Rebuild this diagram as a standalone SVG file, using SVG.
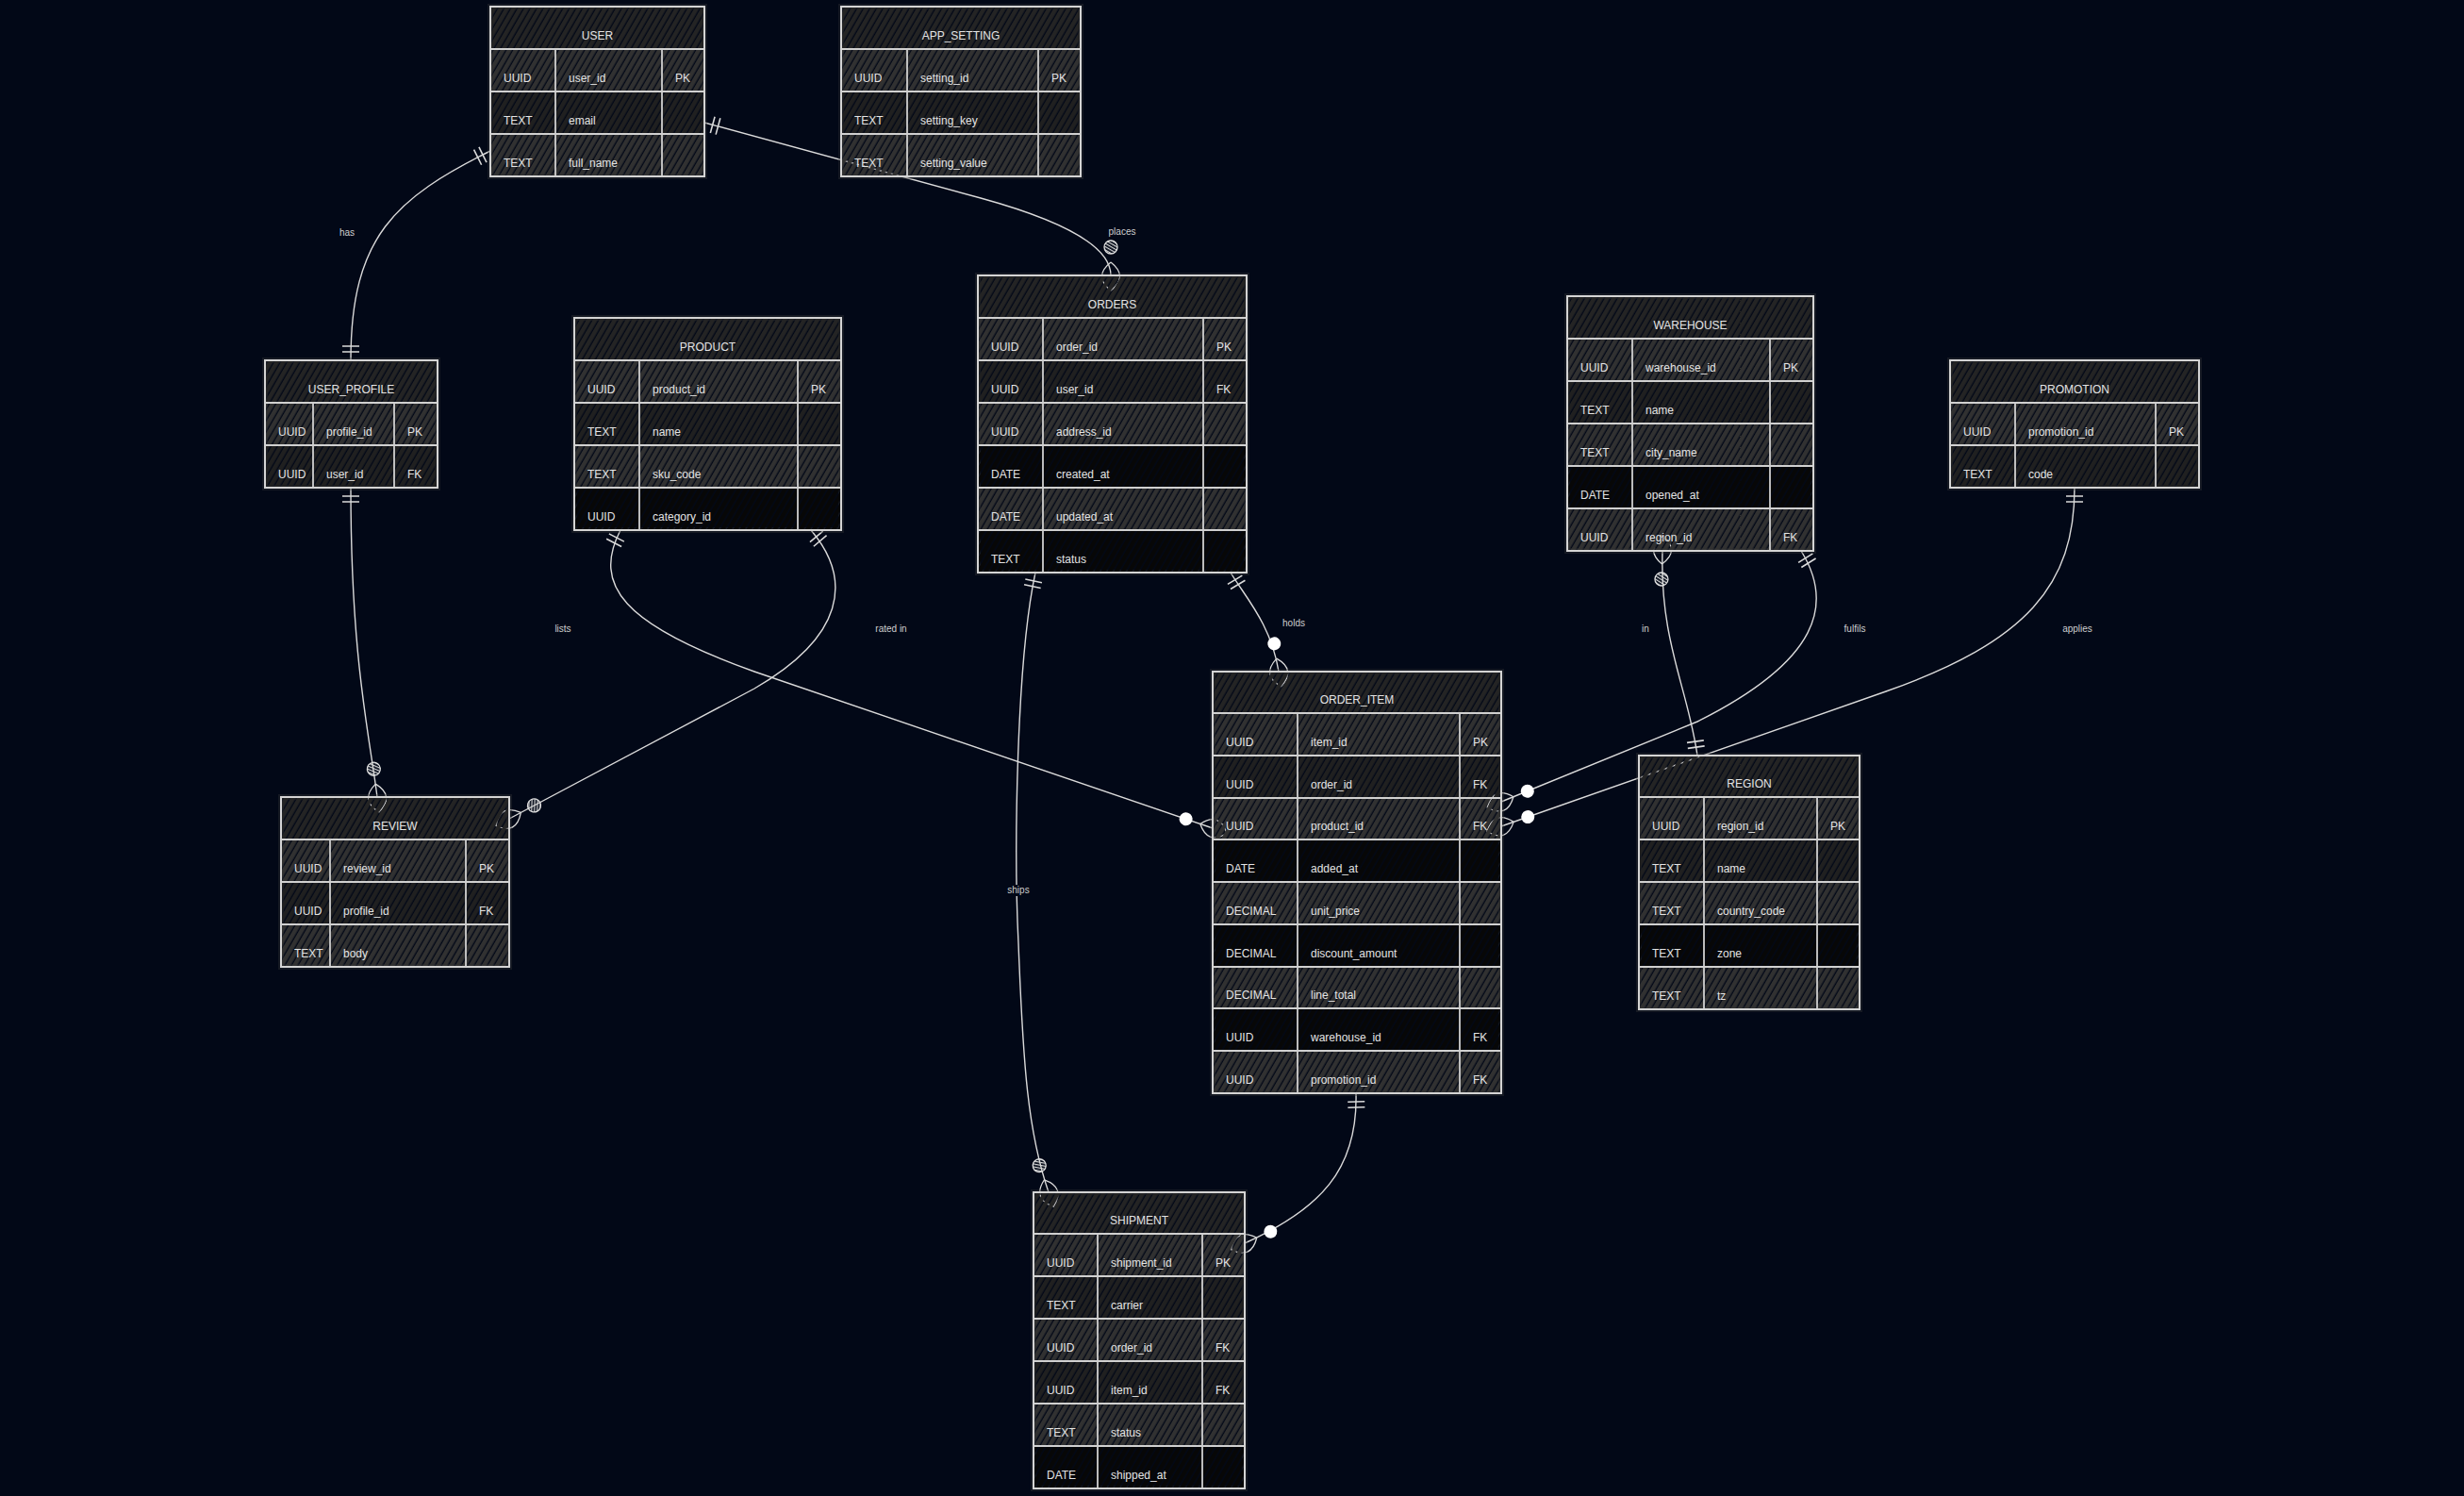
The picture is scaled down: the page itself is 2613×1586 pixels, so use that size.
<svg xmlns="http://www.w3.org/2000/svg" xmlns:xlink="http://www.w3.org/1999/xlink" width="2613" height="1586" viewBox="0 0 2613 1586">
<defs>
<style>
.t{font-family:"Liberation Sans",Arial,sans-serif;font-size:12px;fill:#e4e4e4}
.th{text-anchor:middle}
.lb{font-family:"Liberation Sans",Arial,sans-serif;font-size:10px;fill:#cfcfcf;text-anchor:middle}
.lbg{fill:#020817}
.h{fill:url(#pH)}
.m{fill:url(#pM)}
.d{fill:url(#pD)}
.k{fill:url(#pK)}
.halo{fill:none;stroke:#3a3a3a;stroke-width:6;stroke-opacity:.35}
.bd{fill:none;stroke:#d4d4d4;stroke-width:2}
.ln{fill:none;stroke:#d0d0d0;stroke-width:1.8}
.c{fill:none;stroke:#dadada;stroke-width:1.4}
</style>
<pattern id="pH" width="6" height="6" patternUnits="userSpaceOnUse" patternTransform="rotate(30)"><rect width="4.6" height="6" fill="#242424"/></pattern>
<pattern id="pM" width="6" height="6" patternUnits="userSpaceOnUse" patternTransform="rotate(30)"><rect width="4.6" height="6" fill="#313131"/></pattern>
<pattern id="pD" width="6" height="6" patternUnits="userSpaceOnUse" patternTransform="rotate(30)"><rect width="4.6" height="6" fill="#202020"/></pattern>
<pattern id="pK" width="6" height="6" patternUnits="userSpaceOnUse" patternTransform="rotate(30)"><rect width="4.6" height="6" fill="#070707"/></pattern>
<pattern id="pC" width="3" height="3" patternUnits="userSpaceOnUse" patternTransform="rotate(30)"><rect width="1.2" height="3" fill="#d8d8d8"/></pattern>
<g id="one"><path d="M-9,-9V9M-15,-9V9" fill="none" stroke="#dadada" stroke-width="1.6"/></g>
<g id="leaf"><path d="M-14,0Q1,-19 16,0Q1,19 -14,0" fill="none" stroke="#dadada" stroke-width="1.3"/></g>
<g id="mf"><use href="#leaf"/><circle cx="-30" cy="0" r="7" fill="#ffffff"/></g>
<g id="mh"><use href="#leaf"/><circle cx="-30" cy="0" r="7" fill="url(#pC)" stroke="#e0e0e0" stroke-width="1.3"/></g>
</defs>
<rect width="2613" height="1586" fill="#020817"/>

<g id="connectors">
<path class="c" d="M372,382 C372,250 420,210 520,160"/>
<use href="#one" transform="translate(372,382) rotate(90)"/>
<use href="#one" transform="translate(520,160) rotate(-26.6)"/>

<path class="c" d="M747,130 L1040,210 Q1178,248 1178,292"/>
<use href="#one" transform="translate(747,130) rotate(195.3)"/>
<use href="#mh" transform="translate(1178,292) rotate(90)"/>

<path class="c" d="M372,517 C372,700 392,780 400,845"/>
<use href="#one" transform="translate(372,517) rotate(-90)"/>
<use href="#mh" transform="translate(400,845) rotate(83)"/>

<path class="c" d="M658,562 C628,620 660,662 800,712 L1286,878"/>
<use href="#one" transform="translate(658,562) rotate(-62.6)"/>
<use href="#mf" transform="translate(1286,878) rotate(18.9)"/>

<path class="c" d="M860,562 C905,615 895,675 800,730 L540,868"/>
<use href="#one" transform="translate(860,562) rotate(-130.3)"/>
<use href="#mh" transform="translate(540,868) rotate(152)"/>

<path class="c" d="M1098,607 C1078,700 1075,900 1080,1000 C1085,1130 1090,1200 1112,1264"/>
<use href="#one" transform="translate(1098,607) rotate(-77.9)"/>
<use href="#mh" transform="translate(1112,1264) rotate(71)"/>

<path class="c" d="M1305,607 C1320,632 1348,662 1356,712"/>
<use href="#one" transform="translate(1305,607) rotate(-121)"/>
<use href="#mf" transform="translate(1356,712) rotate(81)"/>

<path class="c" d="M1763,584 C1760,680 1790,730 1800,801"/>
<use href="#mh" transform="translate(1763,584) rotate(-88)"/>
<use href="#one" transform="translate(1800,801) rotate(82)"/>

<path class="c" d="M1910,584 C1945,640 1930,700 1800,765 L1592,850"/>
<use href="#one" transform="translate(1910,584) rotate(-122)"/>
<use href="#mf" transform="translate(1592,850) rotate(157.8)"/>

<path class="c" d="M2200,517 C2200,620 2150,680 2000,733 L1592,876"/>
<use href="#one" transform="translate(2200,517) rotate(-90)"/>
<use href="#mf" transform="translate(1592,876) rotate(160.7)"/>

<path class="c" d="M1438,1159 C1440,1240 1400,1282 1320,1318"/>
<use href="#one" transform="translate(1438,1159) rotate(-91.4)"/>
<use href="#mf" transform="translate(1320,1318) rotate(155.8)"/>

<rect class="lbg" x="354" y="241" width="28" height="12"/><text class="lb" x="368" y="250">has</text>
<rect class="lbg" x="1172" y="240" width="36" height="12"/><text class="lb" x="1190" y="249">places</text>
<rect class="lbg" x="584" y="661" width="26" height="12"/><text class="lb" x="597" y="670">lists</text>
<rect class="lbg" x="925" y="661" width="40" height="12"/><text class="lb" x="945" y="670">rated in</text>
<text class="lb" x="1372" y="664">holds</text>
<rect class="lbg" x="1737" y="661" width="16" height="12"/><text class="lb" x="1745" y="670">in</text>
<rect class="lbg" x="1950" y="661" width="34" height="12"/><text class="lb" x="1967" y="670">fulfils</text>
<rect class="lbg" x="2183" y="661" width="40" height="12"/><text class="lb" x="2203" y="670">applies</text>
<rect class="lbg" x="1064" y="938" width="32" height="12"/><text class="lb" x="1080" y="947">ships</text>
</g>

<g id="user">
<rect class="halo" x="520" y="7" width="227" height="180"/>
<rect class="h" x="520" y="7" width="227" height="45"/>
<rect class="m" x="520" y="52" width="227" height="45"/>
<rect class="d" x="520" y="97" width="227" height="45"/>
<rect class="m" x="520" y="142" width="227" height="45"/>
<path class="ln" d="M520,52H747M520,97H747M520,142H747M589,52V187M702,52V187"/>
<rect class="bd" x="520" y="7" width="227" height="180"/>
<text class="t th" x="633.5" y="42">USER</text>
<text class="t" x="534" y="87">UUID</text><text class="t" x="603" y="87">user_id</text><text class="t" x="716" y="87">PK</text>
<text class="t" x="534" y="132">TEXT</text><text class="t" x="603" y="132">email</text>
<text class="t" x="534" y="177">TEXT</text><text class="t" x="603" y="177">full_name</text>
</g>

<g id="app_setting">
<rect class="halo" x="892" y="7" width="254" height="180"/>
<rect class="h" x="892" y="7" width="254" height="45"/>
<rect class="m" x="892" y="52" width="254" height="45"/>
<rect class="d" x="892" y="97" width="254" height="45"/>
<rect class="m" x="892" y="142" width="254" height="45"/>
<path class="ln" d="M892,52H1146M892,97H1146M892,142H1146M962,52V187M1101,52V187"/>
<rect class="bd" x="892" y="7" width="254" height="180"/>
<text class="t th" x="1019" y="42">APP_SETTING</text>
<text class="t" x="906" y="87">UUID</text><text class="t" x="976" y="87">setting_id</text><text class="t" x="1115" y="87">PK</text>
<text class="t" x="906" y="132">TEXT</text><text class="t" x="976" y="132">setting_key</text>
<text class="t" x="906" y="177">TEXT</text><text class="t" x="976" y="177">setting_value</text>
</g>

<g id="user_profile">
<rect class="halo" x="281" y="382" width="183" height="135"/>
<rect class="h" x="281" y="382" width="183" height="45"/>
<rect class="m" x="281" y="427" width="183" height="45"/>
<rect class="d" x="281" y="472" width="183" height="45"/>
<path class="ln" d="M281,427H464M281,472H464M332,427V517M418,427V517"/>
<rect class="bd" x="281" y="382" width="183" height="135"/>
<text class="t th" x="372.5" y="417">USER_PROFILE</text>
<text class="t" x="295" y="462">UUID</text><text class="t" x="346" y="462">profile_id</text><text class="t" x="432" y="462">PK</text>
<text class="t" x="295" y="507">UUID</text><text class="t" x="346" y="507">user_id</text><text class="t" x="432" y="507">FK</text>
</g>

<g id="product">
<rect class="halo" x="609" y="337" width="283" height="225"/>
<rect class="h" x="609" y="337" width="283" height="45"/>
<rect class="m" x="609" y="382" width="283" height="45"/>
<rect class="d" x="609" y="427" width="283" height="45"/>
<rect class="m" x="609" y="472" width="283" height="45"/>
<rect class="k" x="609" y="517" width="283" height="45"/>
<path class="ln" d="M609,382H892M609,427H892M609,472H892M609,517H892M678,382V562M846,382V562"/>
<rect class="bd" x="609" y="337" width="283" height="225"/>
<text class="t th" x="750.5" y="372">PRODUCT</text>
<text class="t" x="623" y="417">UUID</text><text class="t" x="692" y="417">product_id</text><text class="t" x="860" y="417">PK</text>
<text class="t" x="623" y="462">TEXT</text><text class="t" x="692" y="462">name</text>
<text class="t" x="623" y="507">TEXT</text><text class="t" x="692" y="507">sku_code</text>
<text class="t" x="623" y="552">UUID</text><text class="t" x="692" y="552">category_id</text>
</g>

<g id="orders">
<rect class="halo" x="1037" y="292" width="285" height="315"/>
<rect class="h" x="1037" y="292" width="285" height="45"/>
<rect class="m" x="1037" y="337" width="285" height="45"/>
<rect class="d" x="1037" y="382" width="285" height="45"/>
<rect class="m" x="1037" y="427" width="285" height="45"/>
<rect class="k" x="1037" y="472" width="285" height="45"/>
<rect class="m" x="1037" y="517" width="285" height="45"/>
<rect class="k" x="1037" y="562" width="285" height="45"/>
<path class="ln" d="M1037,337H1322M1037,382H1322M1037,427H1322M1037,472H1322M1037,517H1322M1037,562H1322M1106,337V607M1276,337V607"/>
<rect class="bd" x="1037" y="292" width="285" height="315"/>
<text class="t th" x="1179.5" y="327">ORDERS</text>
<text class="t" x="1051" y="372">UUID</text><text class="t" x="1120" y="372">order_id</text><text class="t" x="1290" y="372">PK</text>
<text class="t" x="1051" y="417">UUID</text><text class="t" x="1120" y="417">user_id</text><text class="t" x="1290" y="417">FK</text>
<text class="t" x="1051" y="462">UUID</text><text class="t" x="1120" y="462">address_id</text>
<text class="t" x="1051" y="507">DATE</text><text class="t" x="1120" y="507">created_at</text>
<text class="t" x="1051" y="552">DATE</text><text class="t" x="1120" y="552">updated_at</text>
<text class="t" x="1051" y="597">TEXT</text><text class="t" x="1120" y="597">status</text>
</g>

<g id="warehouse">
<rect class="halo" x="1662" y="314" width="261" height="270"/>
<rect class="h" x="1662" y="314" width="261" height="45"/>
<rect class="m" x="1662" y="359" width="261" height="45"/>
<rect class="d" x="1662" y="404" width="261" height="45"/>
<rect class="m" x="1662" y="449" width="261" height="45"/>
<rect class="k" x="1662" y="494" width="261" height="45"/>
<rect class="m" x="1662" y="539" width="261" height="45"/>
<path class="ln" d="M1662,359H1923M1662,404H1923M1662,449H1923M1662,494H1923M1662,539H1923M1731,359V584M1877,359V584"/>
<rect class="bd" x="1662" y="314" width="261" height="270"/>
<text class="t th" x="1792.5" y="349">WAREHOUSE</text>
<text class="t" x="1676" y="394">UUID</text><text class="t" x="1745" y="394">warehouse_id</text><text class="t" x="1891" y="394">PK</text>
<text class="t" x="1676" y="439">TEXT</text><text class="t" x="1745" y="439">name</text>
<text class="t" x="1676" y="484">TEXT</text><text class="t" x="1745" y="484">city_name</text>
<text class="t" x="1676" y="529">DATE</text><text class="t" x="1745" y="529">opened_at</text>
<text class="t" x="1676" y="574">UUID</text><text class="t" x="1745" y="574">region_id</text><text class="t" x="1891" y="574">FK</text>
</g>

<g id="promotion">
<rect class="halo" x="2068" y="382" width="264" height="135"/>
<rect class="h" x="2068" y="382" width="264" height="45"/>
<rect class="m" x="2068" y="427" width="264" height="45"/>
<rect class="d" x="2068" y="472" width="264" height="45"/>
<path class="ln" d="M2068,427H2332M2068,472H2332M2137,427V517M2286,427V517"/>
<rect class="bd" x="2068" y="382" width="264" height="135"/>
<text class="t th" x="2200" y="417">PROMOTION</text>
<text class="t" x="2082" y="462">UUID</text><text class="t" x="2151" y="462">promotion_id</text><text class="t" x="2300" y="462">PK</text>
<text class="t" x="2082" y="507">TEXT</text><text class="t" x="2151" y="507">code</text>
</g>

<g id="review">
<rect class="halo" x="298" y="845" width="242" height="180"/>
<rect class="h" x="298" y="845" width="242" height="45"/>
<rect class="m" x="298" y="890" width="242" height="45"/>
<rect class="d" x="298" y="935" width="242" height="45"/>
<rect class="m" x="298" y="980" width="242" height="45"/>
<path class="ln" d="M298,890H540M298,935H540M298,980H540M350,890V1025M494,890V1025"/>
<rect class="bd" x="298" y="845" width="242" height="180"/>
<text class="t th" x="419" y="880">REVIEW</text>
<text class="t" x="312" y="925">UUID</text><text class="t" x="364" y="925">review_id</text><text class="t" x="508" y="925">PK</text>
<text class="t" x="312" y="970">UUID</text><text class="t" x="364" y="970">profile_id</text><text class="t" x="508" y="970">FK</text>
<text class="t" x="312" y="1015">TEXT</text><text class="t" x="364" y="1015">body</text>
</g>

<g id="order_item">
<rect class="halo" x="1286" y="712" width="306" height="447"/>
<rect class="h" x="1286" y="712" width="306" height="44"/>
<rect class="m" x="1286" y="756" width="306" height="45"/>
<rect class="d" x="1286" y="801" width="306" height="45"/>
<rect class="m" x="1286" y="846" width="306" height="44"/>
<rect class="k" x="1286" y="890" width="306" height="45"/>
<rect class="m" x="1286" y="935" width="306" height="45"/>
<rect class="k" x="1286" y="980" width="306" height="45"/>
<rect class="m" x="1286" y="1025" width="306" height="44"/>
<rect class="k" x="1286" y="1069" width="306" height="45"/>
<rect class="m" x="1286" y="1114" width="306" height="45"/>
<path class="ln" d="M1286,756H1592M1286,801H1592M1286,846H1592M1286,890H1592M1286,935H1592M1286,980H1592M1286,1025H1592M1286,1069H1592M1286,1114H1592M1376,756V1159M1548,756V1159"/>
<rect class="bd" x="1286" y="712" width="306" height="447"/>
<text class="t th" x="1439" y="746">ORDER_ITEM</text>
<text class="t" x="1300" y="791">UUID</text><text class="t" x="1390" y="791">item_id</text><text class="t" x="1562" y="791">PK</text>
<text class="t" x="1300" y="836">UUID</text><text class="t" x="1390" y="836">order_id</text><text class="t" x="1562" y="836">FK</text>
<text class="t" x="1300" y="880">UUID</text><text class="t" x="1390" y="880">product_id</text><text class="t" x="1562" y="880">FK</text>
<text class="t" x="1300" y="925">DATE</text><text class="t" x="1390" y="925">added_at</text>
<text class="t" x="1300" y="970">DECIMAL</text><text class="t" x="1390" y="970">unit_price</text>
<text class="t" x="1300" y="1015">DECIMAL</text><text class="t" x="1390" y="1015">discount_amount</text>
<text class="t" x="1300" y="1059">DECIMAL</text><text class="t" x="1390" y="1059">line_total</text>
<text class="t" x="1300" y="1104">UUID</text><text class="t" x="1390" y="1104">warehouse_id</text><text class="t" x="1562" y="1104">FK</text>
<text class="t" x="1300" y="1149">UUID</text><text class="t" x="1390" y="1149">promotion_id</text><text class="t" x="1562" y="1149">FK</text>
</g>

<g id="region">
<rect class="halo" x="1738" y="801" width="234" height="269"/>
<rect class="h" x="1738" y="801" width="234" height="44"/>
<rect class="m" x="1738" y="845" width="234" height="45"/>
<rect class="d" x="1738" y="890" width="234" height="45"/>
<rect class="m" x="1738" y="935" width="234" height="45"/>
<rect class="k" x="1738" y="980" width="234" height="45"/>
<rect class="m" x="1738" y="1025" width="234" height="45"/>
<path class="ln" d="M1738,845H1972M1738,890H1972M1738,935H1972M1738,980H1972M1738,1025H1972M1807,845V1070M1927,845V1070"/>
<rect class="bd" x="1738" y="801" width="234" height="269"/>
<text class="t th" x="1855" y="835">REGION</text>
<text class="t" x="1752" y="880">UUID</text><text class="t" x="1821" y="880">region_id</text><text class="t" x="1941" y="880">PK</text>
<text class="t" x="1752" y="925">TEXT</text><text class="t" x="1821" y="925">name</text>
<text class="t" x="1752" y="970">TEXT</text><text class="t" x="1821" y="970">country_code</text>
<text class="t" x="1752" y="1015">TEXT</text><text class="t" x="1821" y="1015">zone</text>
<text class="t" x="1752" y="1060">TEXT</text><text class="t" x="1821" y="1060">tz</text>
</g>

<g id="shipment">
<rect class="halo" x="1096" y="1264" width="224" height="314"/>
<rect class="h" x="1096" y="1264" width="224" height="44"/>
<rect class="m" x="1096" y="1308" width="224" height="45"/>
<rect class="d" x="1096" y="1353" width="224" height="45"/>
<rect class="m" x="1096" y="1398" width="224" height="45"/>
<rect class="d" x="1096" y="1443" width="224" height="45"/>
<rect class="m" x="1096" y="1488" width="224" height="45"/>
<rect class="k" x="1096" y="1533" width="224" height="45"/>
<path class="ln" d="M1096,1308H1320M1096,1353H1320M1096,1398H1320M1096,1443H1320M1096,1488H1320M1096,1533H1320M1164,1308V1578M1275,1308V1578"/>
<rect class="bd" x="1096" y="1264" width="224" height="314"/>
<text class="t th" x="1208" y="1298">SHIPMENT</text>
<text class="t" x="1110" y="1343">UUID</text><text class="t" x="1178" y="1343">shipment_id</text><text class="t" x="1289" y="1343">PK</text>
<text class="t" x="1110" y="1388">TEXT</text><text class="t" x="1178" y="1388">carrier</text>
<text class="t" x="1110" y="1433">UUID</text><text class="t" x="1178" y="1433">order_id</text><text class="t" x="1289" y="1433">FK</text>
<text class="t" x="1110" y="1478">UUID</text><text class="t" x="1178" y="1478">item_id</text><text class="t" x="1289" y="1478">FK</text>
<text class="t" x="1110" y="1523">TEXT</text><text class="t" x="1178" y="1523">status</text>
<text class="t" x="1110" y="1568">DATE</text><text class="t" x="1178" y="1568">shipped_at</text>
</g>
</svg>
